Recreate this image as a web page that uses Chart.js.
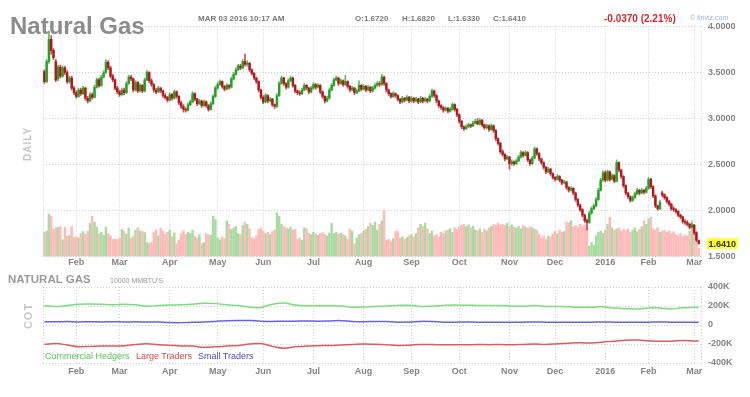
<!DOCTYPE html>
<html>
<head>
<meta charset="utf-8">
<title>Natural Gas</title>
<script src="https://cdn.jsdelivr.net/npm/chart.js@4.4.1/dist/chart.umd.min.js"></script>
<style>
  html, body { margin: 0; padding: 0; background: #fff; }
  body { width: 750px; height: 397px; position: relative; overflow: hidden; font-family: "Liberation Sans", Arial, sans-serif; }
  canvas { position: absolute; left: 0; }
  #priceChart { top: 0; }
  #cotChart { top: 270px; }
  .lbl { position: absolute; white-space: nowrap; line-height: 1; z-index: 2; }
  .hdr { top: 15.1px; font-size: 8px; font-weight: bold; color: #7a7a7a; }
  .vert { font-weight: bold; color: #c6c6c6; letter-spacing: 1px; transform: translate(-50%, -50%) rotate(-90deg); }
  .leg { top: 352.1px; font-size: 9px; }
</style>
</head>
<body>
<canvas id="priceChart" width="750" height="275"></canvas>
<canvas id="cotChart" width="750" height="112"></canvas>

<div class="lbl" style="left:10px;top:13.8px;font-size:24px;font-weight:bold;color:#8c8c8c">Natural Gas</div>
<div class="lbl hdr" style="left:198px">MAR 03 2016 10:17 AM</div>
<div class="lbl hdr" style="left:355px">O:1.6720</div>
<div class="lbl hdr" style="left:402px">H:1.6820</div>
<div class="lbl hdr" style="left:448px">L:1.6330</div>
<div class="lbl hdr" style="left:493px">C:1.6410</div>
<div class="lbl" style="left:604px;top:13.9px;font-size:10px;font-weight:bold;color:#d7262e">-0.0370 (2.21%)</div>
<div class="lbl" style="left:690px;top:13.6px;font-size:7px;color:#8fb9e3">© finviz.com</div>
<div class="lbl vert" style="left:28px;top:143.5px;font-size:10px">DAILY</div>

<div class="lbl" style="left:8px;top:274.4px;font-size:11.5px;font-weight:bold;color:#9a9a9a">NATURAL GAS</div>
<div class="lbl" style="left:110px;top:276.6px;font-size:7px;color:#999">10000 MMBTU'S</div>
<div class="lbl vert" style="left:28px;top:316px;font-size:11px">COT</div>
<div class="lbl leg" style="left:45px;color:#55c455">Commercial Hedgers</div>
<div class="lbl leg" style="left:136px;color:#d94848">Large Traders</div>
<div class="lbl leg" style="left:198px;color:#4b4bc9">Small Traders</div>

<script>
// daily bars, one per trading day, Jan 12 2015 .. Mar 03 2016
const opens = [
  3.51,3.40,3.62,3.86,3.74,3.62,3.43,3.56,3.46,3.55,
  3.50,3.40,3.44,3.33,3.28,3.24,3.31,3.27,3.33,3.22,
  3.19,3.26,3.23,3.34,3.42,3.36,3.45,3.50,3.61,3.55,
  3.46,3.42,3.33,3.29,3.26,3.31,3.28,3.38,3.45,3.43,
  3.31,3.39,3.30,3.36,3.30,3.42,3.50,3.41,3.37,3.31,
  3.29,3.33,3.30,3.25,3.23,3.20,3.26,3.22,3.29,3.24,
  3.17,3.13,3.10,3.09,3.15,3.18,3.27,3.21,3.16,3.19,
  3.14,3.18,3.14,3.10,3.16,3.24,3.33,3.37,3.40,3.35,
  3.32,3.36,3.34,3.43,3.48,3.53,3.57,3.55,3.62,3.59,
  3.60,3.53,3.49,3.44,3.40,3.31,3.23,3.18,3.25,3.19,
  3.21,3.15,3.13,3.25,3.38,3.44,3.38,3.34,3.41,3.44,
  3.36,3.30,3.28,3.27,3.31,3.36,3.33,3.29,3.33,3.37,
  3.34,3.36,3.29,3.24,3.19,3.22,3.31,3.36,3.42,3.44,
  3.38,3.41,3.37,3.40,3.35,3.31,3.33,3.28,3.30,3.36,
  3.32,3.35,3.31,3.34,3.30,3.33,3.36,3.38,3.37,3.45,
  3.38,3.31,3.27,3.24,3.27,3.25,3.21,3.18,3.22,3.20,
  3.23,3.19,3.22,3.19,3.21,3.18,3.22,3.19,3.21,3.19,
  3.24,3.30,3.25,3.19,3.14,3.12,3.09,3.11,3.08,3.10,
  3.15,3.10,3.04,2.97,2.91,2.89,2.91,2.93,2.92,2.95,
  2.97,2.94,2.98,2.93,2.90,2.92,2.88,2.92,2.87,2.78,
  2.73,2.64,2.61,2.56,2.58,2.51,2.53,2.51,2.54,2.58,
  2.63,2.60,2.63,2.55,2.51,2.57,2.67,2.62,2.56,2.52,
  2.47,2.42,2.45,2.40,2.36,2.34,2.37,2.33,2.30,2.31,
  2.25,2.22,2.24,2.19,2.12,2.06,2.01,1.95,1.89,1.87,
  1.97,2.02,2.05,2.12,2.22,2.33,2.41,2.33,2.42,2.34,
  2.38,2.32,2.52,2.44,2.37,2.27,2.19,2.15,2.11,2.14,
  2.18,2.22,2.19,2.22,2.20,2.24,2.34,2.26,2.16,2.05,
  2.02,2.19,2.17,2.14,2.10,2.07,2.02,2.01,1.99,1.95,
  1.93,1.88,1.87,1.85,1.82,1.84,1.76,1.672
];
const highs = [
  3.53,3.64,3.95,3.90,3.76,3.64,3.58,3.58,3.57,3.57,
  3.52,3.46,3.46,3.35,3.30,3.33,3.33,3.35,3.34,3.24,
  3.28,3.28,3.36,3.44,3.44,3.47,3.52,3.64,3.63,3.57,
  3.48,3.43,3.35,3.31,3.33,3.33,3.40,3.47,3.47,3.44,
  3.41,3.40,3.38,3.37,3.44,3.52,3.51,3.43,3.38,3.33,
  3.35,3.34,3.31,3.27,3.24,3.28,3.27,3.31,3.30,3.25,
  3.19,3.15,3.12,3.17,3.20,3.29,3.28,3.22,3.21,3.20,
  3.20,3.19,3.15,3.18,3.26,3.35,3.39,3.42,3.41,3.36,
  3.38,3.37,3.45,3.50,3.55,3.59,3.59,3.64,3.70,3.63,
  3.61,3.54,3.50,3.45,3.41,3.32,3.25,3.27,3.26,3.23,
  3.22,3.16,3.27,3.40,3.46,3.45,3.39,3.43,3.46,3.45,
  3.37,3.31,3.30,3.33,3.38,3.37,3.34,3.35,3.39,3.38,
  3.38,3.37,3.30,3.25,3.24,3.33,3.38,3.44,3.46,3.45,
  3.43,3.42,3.47,3.41,3.36,3.35,3.34,3.32,3.41,3.37,
  3.37,3.36,3.36,3.35,3.35,3.38,3.40,3.40,3.48,3.46,
  3.39,3.32,3.28,3.29,3.28,3.26,3.22,3.24,3.23,3.25,
  3.24,3.24,3.23,3.23,3.22,3.24,3.23,3.23,3.22,3.26,
  3.32,3.31,3.26,3.20,3.15,3.13,3.13,3.12,3.12,3.17,
  3.16,3.11,3.05,2.98,2.92,2.93,2.95,2.94,2.97,2.99,
  3.00,3.00,2.99,2.94,2.94,2.93,2.94,2.93,2.88,2.79,
  2.74,2.66,2.62,2.60,2.59,2.55,2.54,2.56,2.60,2.65,
  2.64,2.65,2.64,2.56,2.59,2.69,2.68,2.63,2.57,2.53,
  2.48,2.47,2.46,2.41,2.37,2.39,2.38,2.34,2.33,2.32,
  2.26,2.26,2.25,2.20,2.13,2.07,2.02,1.96,1.91,1.99,
  2.04,2.07,2.14,2.24,2.35,2.43,2.43,2.44,2.43,2.40,
  2.39,2.55,2.53,2.45,2.38,2.28,2.20,2.16,2.16,2.20,
  2.24,2.23,2.24,2.23,2.26,2.36,2.35,2.27,2.17,2.06,
  2.11,2.21,2.18,2.15,2.11,2.08,2.04,2.02,2.00,1.96,
  1.94,1.90,1.89,1.86,1.86,1.85,1.77,1.682
];
const lows = [
  3.38,3.39,3.60,3.70,3.64,3.40,3.41,3.44,3.45,3.48,
  3.38,3.38,3.31,3.26,3.22,3.23,3.25,3.26,3.20,3.17,
  3.18,3.21,3.22,3.33,3.34,3.35,3.44,3.49,3.53,3.44,
  3.40,3.31,3.27,3.24,3.25,3.26,3.27,3.37,3.41,3.29,
  3.30,3.28,3.29,3.28,3.29,3.41,3.39,3.35,3.29,3.27,
  3.28,3.28,3.23,3.21,3.18,3.19,3.20,3.21,3.22,3.15,
  3.11,3.07,3.07,3.08,3.14,3.17,3.19,3.14,3.15,3.12,
  3.13,3.12,3.08,3.09,3.15,3.23,3.32,3.36,3.33,3.30,
  3.31,3.32,3.33,3.42,3.47,3.52,3.53,3.54,3.57,3.57,
  3.51,3.47,3.42,3.38,3.29,3.21,3.16,3.17,3.17,3.18,
  3.13,3.11,3.12,3.24,3.37,3.36,3.32,3.33,3.40,3.34,
  3.28,3.26,3.25,3.26,3.30,3.31,3.27,3.28,3.32,3.32,
  3.33,3.27,3.22,3.17,3.18,3.21,3.30,3.35,3.41,3.36,
  3.37,3.35,3.36,3.33,3.29,3.30,3.26,3.27,3.29,3.30,
  3.31,3.29,3.30,3.28,3.29,3.32,3.35,3.35,3.36,3.36,
  3.29,3.25,3.22,3.23,3.23,3.19,3.16,3.17,3.18,3.19,
  3.17,3.18,3.17,3.18,3.16,3.17,3.17,3.18,3.17,3.18,
  3.23,3.23,3.17,3.12,3.10,3.07,3.08,3.06,3.07,3.09,
  3.08,3.02,2.95,2.89,2.87,2.88,2.90,2.90,2.91,2.94,
  2.93,2.93,2.91,2.88,2.89,2.86,2.87,2.85,2.76,2.71,
  2.62,2.59,2.54,2.55,2.45,2.49,2.49,2.50,2.53,2.57,
  2.58,2.59,2.53,2.49,2.50,2.56,2.60,2.54,2.50,2.45,
  2.40,2.41,2.38,2.34,2.32,2.33,2.31,2.28,2.29,2.23,
  2.20,2.21,2.17,2.10,2.04,1.99,1.93,1.87,1.79,1.86,
  1.96,2.01,2.04,2.11,2.21,2.32,2.31,2.32,2.32,2.33,
  2.30,2.31,2.42,2.35,2.25,2.17,2.13,2.09,2.10,2.13,
  2.17,2.17,2.18,2.18,2.19,2.23,2.24,2.14,2.03,2.00,
  2.01,2.15,2.12,2.08,2.05,2.00,1.99,1.97,1.93,1.91,
  1.86,1.85,1.83,1.80,1.81,1.74,1.66,1.633
];
const closes = [
  3.40,3.62,3.86,3.74,3.66,3.42,3.56,3.46,3.55,3.50,
  3.40,3.44,3.33,3.28,3.24,3.31,3.27,3.33,3.22,3.19,
  3.26,3.23,3.34,3.42,3.36,3.45,3.50,3.61,3.55,3.46,
  3.42,3.33,3.29,3.26,3.31,3.28,3.38,3.45,3.43,3.31,
  3.39,3.30,3.36,3.30,3.42,3.50,3.41,3.37,3.31,3.29,
  3.33,3.30,3.25,3.23,3.20,3.26,3.22,3.29,3.24,3.17,
  3.13,3.10,3.09,3.15,3.18,3.27,3.21,3.16,3.19,3.14,
  3.18,3.14,3.10,3.16,3.24,3.33,3.37,3.40,3.35,3.32,
  3.36,3.34,3.43,3.48,3.53,3.57,3.55,3.62,3.59,3.60,
  3.53,3.49,3.44,3.40,3.31,3.23,3.18,3.25,3.19,3.21,
  3.15,3.13,3.25,3.38,3.44,3.38,3.34,3.41,3.44,3.36,
  3.30,3.28,3.27,3.31,3.36,3.33,3.29,3.33,3.37,3.34,
  3.36,3.29,3.24,3.19,3.22,3.31,3.36,3.42,3.44,3.38,
  3.41,3.37,3.40,3.35,3.31,3.33,3.28,3.30,3.36,3.32,
  3.35,3.31,3.34,3.30,3.33,3.36,3.38,3.37,3.45,3.38,
  3.31,3.27,3.24,3.27,3.25,3.21,3.18,3.22,3.20,3.23,
  3.19,3.22,3.19,3.21,3.18,3.22,3.19,3.21,3.19,3.24,
  3.30,3.25,3.19,3.14,3.12,3.09,3.11,3.08,3.10,3.15,
  3.10,3.04,2.97,2.91,2.89,2.91,2.93,2.92,2.95,2.97,
  2.94,2.98,2.93,2.90,2.92,2.88,2.92,2.87,2.78,2.73,
  2.64,2.61,2.56,2.58,2.51,2.53,2.51,2.54,2.58,2.63,
  2.60,2.63,2.55,2.51,2.57,2.67,2.62,2.56,2.52,2.47,
  2.42,2.45,2.40,2.36,2.34,2.37,2.33,2.30,2.31,2.25,
  2.22,2.24,2.19,2.12,2.06,2.01,1.95,1.89,1.87,1.97,
  2.02,2.05,2.12,2.22,2.33,2.41,2.33,2.42,2.34,2.38,
  2.32,2.52,2.44,2.37,2.27,2.19,2.15,2.11,2.14,2.18,
  2.22,2.19,2.22,2.20,2.24,2.34,2.26,2.16,2.05,2.02,
  2.09,2.17,2.14,2.10,2.07,2.02,2.01,1.99,1.95,1.93,
  1.88,1.87,1.85,1.82,1.84,1.76,1.678,1.641
];
// thousand contracts
const volumes = [
  105,110,184,175,118,125,127,130,74,128,
  88,92,131,83,85,80,100,108,97,110,
  145,175,150,128,100,105,92,128,98,90,
  74,76,74,80,118,110,97,124,80,90,
  115,125,110,108,104,60,56,62,104,115,
  90,122,110,96,105,115,85,103,55,70,
  100,110,95,105,100,115,88,80,95,55,
  60,100,95,92,175,160,80,72,85,78,
  155,140,118,125,130,100,95,135,150,140,
  120,82,78,90,118,125,110,100,105,95,
  108,115,190,175,140,130,125,120,128,115,
  118,75,80,70,125,120,100,95,105,98,
  92,100,104,96,90,102,145,100,105,98,
  102,95,90,75,120,110,55,80,95,100,
  110,118,130,145,135,150,115,140,155,200,
  70,75,65,78,108,110,80,85,75,82,
  90,95,85,100,125,140,130,145,120,100,
  110,90,95,85,105,100,110,115,120,105,
  125,118,130,135,140,130,138,125,132,115,
  110,120,105,118,112,125,130,140,135,145,
  138,140,135,145,130,138,128,125,130,120,
  135,128,122,130,125,118,115,95,80,90,
  75,88,85,98,110,100,115,105,108,150,
  145,155,130,135,128,140,132,138,120,45,
  60,50,90,105,110,100,115,140,170,125,
  115,120,125,110,118,112,120,105,115,125,
  108,118,130,155,140,165,170,120,115,125,
  105,110,115,105,112,100,108,95,90,100,
  85,92,88,110,155,140,60,35
];

const monthTicks = [14, 33, 55, 76, 96, 118, 140, 161, 182, 204, 224, 246, 265, 285];
const monthLabels = ["Feb", "Mar", "Apr", "May", "Jun", "Jul", "Aug", "Sep", "Oct", "Nov", "Dec", "2016", "Feb", "Mar"];
const priceTicks = [1.5, 2.0, 2.5, 3.0, 3.5, 4.0];
const cotTicks = [-400, -200, 0, 200, 400];

// weekly COT positions, thousand contracts, placed on the same trading day index
const cotDays = [
  0,5,10,15,20,25,30,35,40,45,50,55,60,65,70,75,80,85,90,95,
  100,105,110,115,120,125,130,135,140,145,150,155,160,165,170,175,180,185,190,195,
  200,205,210,215,220,225,230,235,240,245,250,255,260,265,270,275,280,285,287
];
const commercialHedgers = [
  203,195,205,218,220,218,212,218,212,198,205,210,212,218,228,225,212,205,188,185,
  218,232,210,203,203,203,200,188,190,195,200,205,208,196,198,205,210,208,206,204,
  205,198,198,204,196,194,192,186,188,192,178,172,168,180,178,168,182,186,186
];
const largeTraders = [
  -203,-195,-210,-228,-225,-222,-220,-218,-205,-198,-208,-212,-220,-222,-235,-230,-222,-215,-200,-195,
  -225,-245,-230,-222,-218,-215,-210,-205,-200,-203,-208,-215,-212,-205,-206,-208,-208,-208,-206,-207,
  -206,-208,-204,-200,-205,-198,-192,-188,-190,-180,-170,-160,-158,-165,-172,-170,-162,-168,-168
];
const smallTraders = [
  35,33,36,32,35,32,34,32,33,32,31,26,25,28,32,38,45,48,47,40,
  38,40,40,42,40,42,46,38,35,38,36,30,32,38,36,30,30,31,30,30,
  29,30,30,31,30,30,29,30,30,31,30,29,30,30,31,30,30,30,30
];

const X_MIN = -0.6;
const X_MAX = 288;
const GRID = "#cfcfcf";
const TICK = "#848484";
const UP = "#25a225";
const DOWN = "#b5161d";

Chart.defaults.font.family = "'Liberation Sans', Arial, sans-serif";

function timeAxis(pad, height) {
  return {
    type: "linear",
    min: X_MIN,
    max: X_MAX,
    offset: false,
    bounds: "data",
    grid: { color: GRID, offset: false, drawTicks: false },
    border: { display: false, dash: [1, 2] },
    ticks: {
      autoSkip: false,
      maxRotation: 0,
      padding: pad,
      color: TICK,
      font: { size: 9, weight: "bold" },
      callback: (v, i) => (i === 0 || i > monthLabels.length ? "" : monthLabels[i - 1])
    },
    afterBuildTicks: (axis) => {
      axis.ticks = [X_MIN, ...monthTicks, X_MAX].map((v) => ({ value: v }));
    },
    afterFit: (axis) => { axis.height = height; }
  };
}

function valueAxis(min, max, ticks, fmt) {
  return {
    position: "right",
    min: min,
    max: max,
    beginAtZero: false,
    grid: { color: GRID, drawTicks: false },
    border: { display: false, dash: [1, 2] },
    ticks: { padding: 7, color: TICK, font: { size: 9, weight: "bold" }, callback: fmt },
    afterBuildTicks: (axis) => { axis.ticks = ticks.map((v) => ({ value: v })); },
    afterFit: (axis) => { axis.width = 49; }
  };
}

const lastPriceTag = {
  id: "lastPriceTag",
  afterDraw(chart) {
    const { ctx, chartArea, scales } = chart;
    const last = closes[closes.length - 1];
    const y = scales.y.getPixelForValue(last);
    ctx.save();
    ctx.fillStyle = "#ffff33";
    ctx.fillRect(chartArea.right + 6, y - 5.5, 31, 11);
    ctx.fillStyle = "#333";
    ctx.font = "bold 9px 'Liberation Sans', Arial";
    ctx.textBaseline = "middle";
    ctx.fillText(last.toFixed(4), chartArea.right + 7.5, y + 0.5);
    ctx.restore();
  }
};

function renderPrice() {
  const up = closes.map((c, i) => c >= opens[i]);
  const bodies = closes.map((c, i) => ({ x: i, y: [opens[i], c] }));
  const wicks = closes.map((c, i) => ({ x: i, y: [lows[i], highs[i]] }));
  const vols = volumes.map((v, i) => ({ x: i, y: v }));

  new Chart(document.getElementById("priceChart"), {
    type: "bar",
    data: {
      datasets: [
        {
          label: "Body",
          data: bodies,
          yAxisID: "y",
          backgroundColor: up.map((u) => (u ? UP : DOWN)),
          barThickness: 1.8,
          grouped: false,
          order: 1
        },
        {
          label: "Wick",
          data: wicks,
          yAxisID: "y",
          backgroundColor: up.map((u) => (u ? "rgba(37,162,37,0.75)" : "rgba(181,22,29,0.75)")),
          barThickness: 1,
          grouped: false,
          order: 2
        },
        {
          label: "Volume",
          data: vols,
          yAxisID: "yv",
          backgroundColor: up.map((u) => (u ? "#a8dca2" : "#ffbaba")),
          barThickness: 1.8,
          grouped: false,
          order: 3
        }
      ]
    },
    options: {
      responsive: false,
      animation: false,
      devicePixelRatio: 1,
      layout: { padding: { left: 43, top: 26.5, right: 0, bottom: 0 } },
      plugins: { legend: { display: false }, tooltip: { enabled: false } },
      scales: {
        x: timeAxis(1, 18.5),
        y: valueAxis(1.5, 4.0, priceTicks, (v) => Number(v).toFixed(4)),
        yv: { display: false, min: 0, max: 1000 }
      }
    },
    plugins: [lastPriceTag]
  });
}

function renderCot() {
  const line = (label, values, color) => ({
    label,
    data: values.map((v, i) => ({ x: cotDays[i], y: v })),
    borderColor: color,
    borderWidth: 1.5,
    pointRadius: 0,
    tension: 0.4,
    fill: false
  });

  new Chart(document.getElementById("cotChart"), {
    type: "line",
    data: {
      datasets: [
        line("Commercial Hedgers", commercialHedgers, "#7bdc7b"),
        line("Large Traders", largeTraders, "#df5a5a"),
        line("Small Traders", smallTraders, "#6565df")
      ]
    },
    options: {
      responsive: false,
      animation: false,
      devicePixelRatio: 1,
      layout: { padding: { left: 43, top: 17, right: 0, bottom: 0 } },
      plugins: { legend: { display: false }, tooltip: { enabled: false } },
      scales: {
        x: timeAxis(3, 19),
        y: valueAxis(-400, 400, cotTicks, (v) => (v === 0 ? "0" : v + "K"))
      }
    }
  });
}

renderPrice();
renderCot();
</script>
</body>
</html>
